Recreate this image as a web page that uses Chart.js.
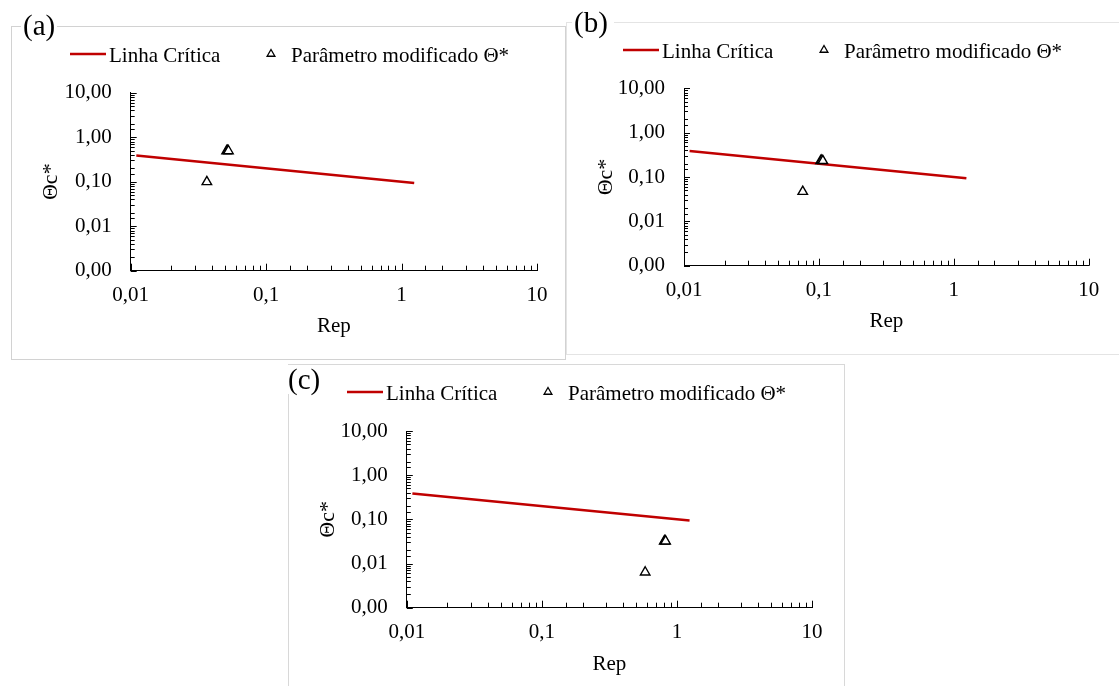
<!DOCTYPE html>
<html>
<head>
<meta charset="utf-8">
<script src="https://cdn.jsdelivr.net/npm/chart.js@4.4.1/dist/chart.umd.min.js"></script>
<style>
	body { margin: 0; background: #fff; width: 1119px; height: 686px; overflow: hidden; position: relative; font-family: 'Liberation Serif', 'Times New Roman', serif; }
	.frame { position: absolute; box-sizing: border-box; border: 1px solid #d2d2d2; }
	canvas { position: absolute; }
	.tag { position: absolute; font-size: 29px; line-height: 1; background: #fff; color: #000; padding: 0 2px; }
</style>
</head>
<body>
<div class="frame" style="left:11px;top:26px;width:555px;height:334px"></div>
<div class="frame" style="left:566px;top:22px;width:560px;height:333px;border-color:#e4e4e4"></div>
<div class="frame" style="left:288px;top:364px;width:557px;height:340px;border-color:#d8d8d8"></div>

<canvas id="chartA" width="555" height="334" style="left:11px;top:26px"></canvas>
<canvas id="chartB" width="560" height="333" style="left:566px;top:22px"></canvas>
<canvas id="chartC" width="557" height="334" style="left:288px;top:364px"></canvas>

<span class="tag" style="left:21px;top:11px">(a)</span>
<span class="tag" style="left:572px;top:8px;padding-right:6px">(b)</span>
<span class="tag" style="left:286px;top:365px">(c)</span>

<script>
// Linha crítica (Rep, Θc*)
const critRep = [0.011, 1.24]
const critTheta = [0.387, 0.094]

// Parâmetro modificado Θ* por painel
const repA = [0.0365, 0.0511, 0.0519, 0.0527]
const thetaA = [0.099, 0.49, 0.50, 0.49]

const repB = [0.0759, 0.103, 0.105, 0.107]
const thetaB = [0.0468, 0.232, 0.236, 0.232]

const repC = [0.582, 0.806, 0.815, 0.824]
const thetaC = [0.00635, 0.032, 0.0325, 0.032]

// eixos
const repTicks = [0.01, 0.1, 1, 10]
const repTickLabels = ['0,01', '0,1', '1', '10']
const thetaTicks = [0.001, 0.01, 0.1, 1, 10]
const thetaTickLabels = ['0,00', '0,01', '0,10', '1,00', '10,00']

const seriesNames = ['Linha Crítica', 'Parâmetro modificado Θ*']

const FONT = "'Liberation Serif', 'Times New Roman', serif"
const RED = '#c00000'

function isDecade(v) {
	const l = Math.log10(v)
	return Math.abs(l - Math.round(l)) < 1e-6
}

function labelFor(v, ticks, labels) {
	const i = ticks.findIndex(t => Math.abs(Math.log10(t) - Math.log10(v)) < 1e-6)
	return i >= 0 ? labels[i] : ''
}

// marcas de escala para dentro, como no Excel
const insideTicks = {
	id: 'insideTicks',
	afterDraw(chart) {
		const ctx = chart.ctx
		const xs = chart.scales.x
		const ys = chart.scales.y
		ctx.save()
		ctx.strokeStyle = '#000'
		ctx.lineWidth = 1
		xs.ticks.forEach(t => {
			const px = Math.round(xs.getPixelForValue(t.value)) + 0.5
			const len = isDecade(t.value) ? 7 : 5
			ctx.beginPath()
			ctx.moveTo(px, ys.bottom)
			ctx.lineTo(px, ys.bottom - len)
			ctx.stroke()
		})
		ys.ticks.forEach(t => {
			const py = Math.round(ys.getPixelForValue(t.value)) + 0.5
			const len = isDecade(t.value) ? 6 : 4
			ctx.beginPath()
			ctx.moveTo(xs.left, py)
			ctx.lineTo(xs.left + len, py)
			ctx.stroke()
		})
		ctx.restore()
	}
}

// legenda no topo do painel
const topLegend = {
	id: 'topLegend',
	afterDraw(chart, args, opts) {
		const ctx = chart.ctx
		const ds = chart.data.datasets
		const x0 = opts.x
		const y = 28
		ctx.save()
		ctx.strokeStyle = ds[0].borderColor
		ctx.lineWidth = 2.5
		ctx.beginPath()
		ctx.moveTo(x0, y)
		ctx.lineTo(x0 + 36, y)
		ctx.stroke()

		ctx.fillStyle = '#000'
		ctx.font = `21px ${FONT}`
		ctx.textBaseline = 'alphabetic'
		ctx.fillText(ds[0].label, x0 + 39, y + 7.5)

		ctx.strokeStyle = '#000'
		ctx.lineWidth = 1.3
		const tx = x0 + 201
		const r = 4.5
		ctx.beginPath()
		ctx.moveTo(tx, y - r)
		ctx.lineTo(tx + r * 0.866, y + r / 2)
		ctx.lineTo(tx - r * 0.866, y + r / 2)
		ctx.closePath()
		ctx.stroke()
		ctx.fillText(ds[1].label, x0 + 221, y + 7.5)
		ctx.restore()
	}
}

function makePanel(id, rep, theta, area, legendX) {
	const canvas = document.getElementById(id)
	const W = canvas.width
	const H = canvas.height

	return new Chart(canvas, {
		type: 'scatter',
		data: {
			datasets: [
				{
					label: seriesNames[0],
					type: 'line',
					data: critRep.map((x, i) => ({ x, y: critTheta[i] })),
					borderColor: RED,
					borderWidth: 2.5,
					pointRadius: 0,
					fill: false,
					order: 1,
				},
				{
					label: seriesNames[1],
					data: rep.map((x, i) => ({ x, y: theta[i] })),
					pointStyle: 'triangle',
					pointRadius: 5.5,
					borderColor: '#000',
					backgroundColor: '#fff',
					borderWidth: 1.4,
					order: 0,
				},
			],
		},
		options: {
			responsive: false,
			animation: false,
			layout: { padding: { top: area.top, right: W - area.right, left: 0, bottom: 0 } },
			plugins: {
				legend: { display: false },
				tooltip: { enabled: false },
				topLegend: { x: legendX },
			},
			scales: {
				x: {
					type: 'logarithmic',
					min: repTicks[0],
					max: repTicks[repTicks.length - 1],
					grid: { display: false, drawTicks: false },
					border: { display: true, color: '#000', width: 1 },
					ticks: {
						autoSkip: false,
						maxRotation: 0,
						padding: 12,
						color: '#000',
						font: { family: FONT, size: 21 },
						callback: v => labelFor(v, repTicks, repTickLabels),
					},
					title: {
						display: true,
						text: 'Rep',
						color: '#000',
						font: { family: FONT, size: 21 },
						padding: { top: 0, bottom: 21 },
					},
					afterFit: s => { s.height = H - area.bottom },
				},
				y: {
					type: 'logarithmic',
					min: thetaTicks[0],
					max: thetaTicks[thetaTicks.length - 1],
					grid: { display: false, drawTicks: false },
					border: { display: true, color: '#000', width: 1 },
					ticks: {
						autoSkip: false,
						padding: 19,
						color: '#000',
						font: { family: FONT, size: 21 },
						callback: v => labelFor(v, thetaTicks, thetaTickLabels),
					},
					title: {
						display: true,
						text: 'Θc*',
						color: '#000',
						font: { family: FONT, size: 22 },
						padding: { top: 27, bottom: 0 },
					},
					afterFit: s => { s.width = area.left },
				},
			},
		},
		plugins: [insideTicks, topLegend],
	})
}

makePanel('chartA', repA, thetaA, { left: 119.7, top: 66.7, right: 526, bottom: 244.7 }, 59)
makePanel('chartB', repB, thetaB, { left: 118, top: 66.3, right: 522.7, bottom: 243.7 }, 57)
makePanel('chartC', repC, thetaC, { left: 118.8, top: 67, right: 524, bottom: 243.7 }, 59)
</script>
</body>
</html>
